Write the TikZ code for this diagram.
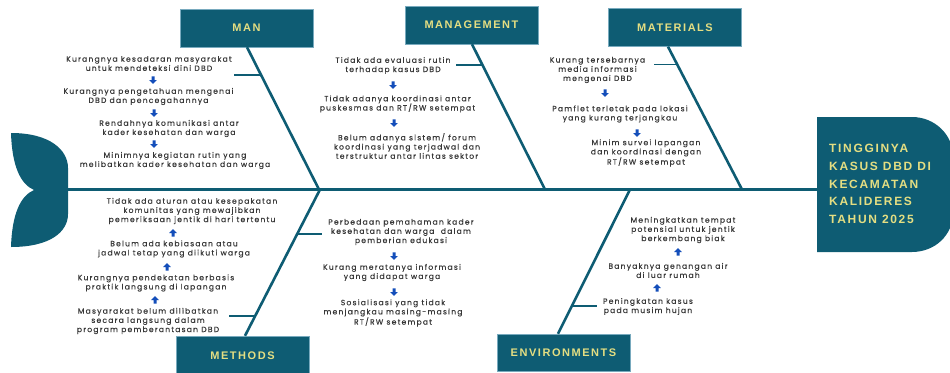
\documentclass[tikz,border=0pt]{standalone}
\usepackage{fontspec}
\setmainfont{Poppins}
\newfontfamily\causefont[LetterSpace=16,FakeBold=0.35]{Poppins}
\newfontfamily\labelfont[LetterSpace=14]{Liberation Sans}
\usetikzlibrary{calc}

\definecolor{teal}{RGB}{14,92,115}
\definecolor{boxedge}{RGB}{120,170,190}
\definecolor{gold}{RGB}{228,222,130}
\definecolor{ink}{RGB}{55,55,55}
\definecolor{arrowblue}{RGB}{20,78,186}

\tikzset{
  bone/.style={draw=teal, line width=2.6pt},
  twig/.style={draw=teal, line width=1.6pt},
  catbox/.style={fill=teal, draw=boxedge, line width=0.4pt, minimum width=133pt,
    minimum height=38pt, inner sep=0pt, text=gold,
    font=\labelfont\bfseries\fontsize{11}{11}\selectfont},
  cause/.style={align=center, inner sep=0pt, text=ink,
    font=\causefont\fontsize{7.6}{9.2}\selectfont},
  pics/downarrow/.style={code={
    \fill[arrowblue] (-1.5,-3.6) -- (1.5,-3.6) -- (1.5,0) -- (3.8,0)
      -- (0,3.8) -- (-3.8,0) -- (-1.5,0) -- cycle;}},
  pics/uparrow/.style={code={
    \fill[arrowblue] (-1.5,3.6) -- (1.5,3.6) -- (1.5,0) -- (3.8,0)
      -- (0,-3.8) -- (-3.8,0) -- (-1.5,0) -- cycle;}},
}

\begin{document}
\begin{tikzpicture}[x=1pt, y=-1pt]
\useasboundingbox (0,0) rectangle (950,372);

% fish tail
\fill[teal] (11,133) .. controls (50,133) and (68,150) .. (68,168)
  -- (68,214) .. controls (68,232) and (50,247) .. (11,247)
  .. controls (12,215) and (20,196) .. (34,190)
  .. controls (20,184) and (12,165) .. cycle;
\coordinate (tailE) at (66,189.5);

% fish head
\fill[teal] (817,117) -- (912,117) .. controls (935,117) and (953,135) .. (953,156)
  -- (953,213) .. controls (953,235) and (935,252) .. (912,252) -- (817,252) -- cycle;
\coordinate (headW) at (818,189.5);
\node[anchor=north west, align=left, inner sep=0pt, text=gold,
  font=\labelfont\bfseries\fontsize{12}{17.8}\selectfont] (head) at (829,144)
  {TINGGINYA\\KASUS DBD DI\\KECAMATAN\\KALIDERES\\TAHUN 2025};

% spine
\draw[bone] (tailE) -- (headW);

% category boxes
\node[catbox] (man)  at (246.5,28)  {MAN};
\node[catbox] (mgmt) at (471.5,25)  {MANAGEMENT};
\node[catbox] (mat)  at (675,27.5)  {MATERIALS};
\node[catbox, minimum height=39pt] (meth) at (242.5,355.5) {METHODS};
\node[catbox, minimum height=37pt] (env)  at (563.5,352.5) {ENVIRONMENTS};

% junctions on the spine
\coordinate (jMan)  at (319,189.5);
\coordinate (jMgmt) at (545,189.5);
\coordinate (jMat)  at (742,189.5);
\coordinate (jMeth) at (320,189.5);
\coordinate (jEnv)  at (630,189.5);

% main bones
\coordinate (tMan)  at ([xshift=0.5pt]man.south);
\coordinate (tMgmt) at ([xshift=0.5pt]mgmt.south);
\coordinate (tMat)  at ([xshift=-7pt]mat.south);
\coordinate (tMeth) at ([xshift=2.5pt]meth.north);
\coordinate (tEnv)  at ([xshift=-5.5pt]env.north);
\draw[bone] (tMan) -- (jMan);
\draw[bone] (tMgmt) -- (jMgmt);
\draw[bone] (tMat) -- (jMat);
\draw[bone] (jMeth) -- (tMeth);
\draw[bone] (jEnv) -- (tEnv);

% short branches
\coordinate (bMan)  at ($(tMan)!0.1965!(jMan)$);
\coordinate (bMgmt) at ($(tMgmt)!0.144!(jMgmt)$);
\coordinate (bMat)  at ($(tMat)!0.125!(jMat)$);
\coordinate (bMethL) at ($(jMeth)!0.863!(tMeth)$);
\coordinate (bMethR) at ($(jMeth)!0.304!(tMeth)$);
\coordinate (bEnv)  at ($(jEnv)!0.806!(tEnv)$);
\draw[twig] (bMan) -- ++(-27,0);
\draw[twig] (bMgmt) -- ++(-27,0);
\draw[twig] (bMat) -- ++(-23,0);
\draw[twig] (bMethL) -- ++(-26,0);
\draw[twig] (bMethR) -- ++(25,0);
\draw[twig] (bEnv) -- ++(25,0);

% MAN causes
\node[cause] (a1) at (149,63.5) {Kurangnya kesadaran masyarakat\\untuk mendeteksi dini DBD};
\node[cause] (a2) at (148.5,96.5) {Kurangnya pengetahuan mengenai\\DBD dan pencegahannya};
\node[cause] (a3) at (169,128.5) {Rendahnya komunikasi antar\\kader kesehatan dan warga};
\node[cause] (a4) at (175,160.5) {Minimnya kegiatan rutin yang\\melibatkan kader kesehatan dan warga};
\pic at (153,80) {downarrow};
\pic at (154,113) {downarrow};
\pic at (154,144) {downarrow};

% MANAGEMENT causes
\node[cause] (b1) at (393,65.5) {Tidak ada evaluasi rutin\\terhadap kasus DBD};
\node[cause] (b2) at (397.5,104) {Tidak adanya koordinasi antar\\puskesmas dan RT/RW setempat};
\node[cause] (b3) at (407,146) {Belum adanya sistem/ forum\\koordinasi yang terjadwal dan\\terstruktur antar lintas sektor};
\pic at (393,85) {downarrow};
\pic at (394,123) {downarrow};

% MATERIALS causes
\node[cause] (c1) at (597.5,70) {Kurang tersebarnya\\media informasi\\mengenai DBD};
\node[cause] (c2) at (620,114) {Pamflet terletak pada lokasi\\yang kurang terjangkau};
\node[cause] (c3) at (646,153) {Minim survei lapangan\\dan koordinasi dengan\\RT/RW setempat};
\pic at (605,93) {downarrow};
\pic at (637,133) {downarrow};

% METHODS causes (left)
\node[cause] (d1) at (192,211) {Tidak ada aturan atau kesepakatan\\komunitas yang mewajibkan\\pemeriksaan jentik di hari tertentu};
\node[cause] (d2) at (174,249) {Belum ada kebiasaan atau\\jadwal tetap yang diikuti warga};
\node[cause] (d3) at (156,283) {Kurangnya pendekatan berbasis\\praktik langsung di lapangan};
\node[cause] (d4) at (148,321) {Masyarakat belum dilibatkan\\secara langsung dalam\\program pemberantasan DBD};
\pic at (173,233) {uparrow};
\pic at (167,267) {uparrow};
\pic at (155,300) {uparrow};

% METHODS causes (right)
\node[cause] (e1) at (401,232) {Perbedaan pemahaman kader\\kesehatan dan warga \ dalam\\pemberian edukasi};
\node[cause] (e2) at (392,272.5) {Kurang meratanya informasi\\yang didapat warga};
\node[cause] (e3) at (393,313) {Sosialisasi yang tidak\\menjangkau masing-masing\\RT/RW setempat};
\pic at (394,256) {downarrow};
\pic at (394,292) {downarrow};

% ENVIRONMENTS causes
\node[cause] (f1) at (683,230) {Meningkatkan tempat\\potensial untuk jentik\\berkembang biak};
\node[cause] (f2) at (668,270.5) {Banyaknya genangan air\\di luar rumah};
\node[cause] (f3) at (648,306.5) {Peningkatan kasus\\pada musim hujan};
\pic at (678,252) {uparrow};
\pic at (657,288) {uparrow};
\end{tikzpicture}
\end{document}
